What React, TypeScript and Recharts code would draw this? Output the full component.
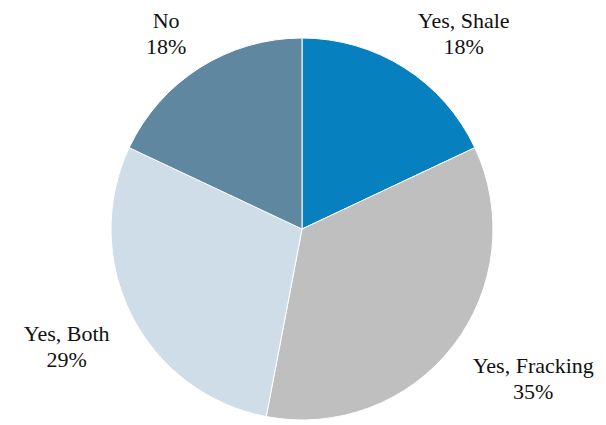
import { PieChart, Pie, Cell, LabelList } from "recharts";

const categories = ["Yes, Shale", "Yes, Fracking", "Yes, Both", "No"];
const shares = [18, 35, 29, 18];
const colors = ["#0780C0", "#BFBFBF", "#CEDDE8", "#5F879F"];

const data = categories.map((name, i) => ({ name, value: shares[i] }));

const FONT = "Liberation Serif, Tinos, Times New Roman, serif";
const FS = 22;
const LINE = 26;
const RADIAN = Math.PI / 180;

let ctx: CanvasRenderingContext2D | null = null;
function textWidth(s: string) {
  if (!ctx) ctx = document.createElement("canvas").getContext("2d");
  if (!ctx) return s.length * FS * 0.45;
  ctx.font = `${FS}px "Liberation Serif"`;
  return ctx.measureText(s).width;
}

// outside-end labels: box pushed away from the slice along its mid angle
function renderLabel(props: any) {
  const { viewBox, index } = props;
  if (!viewBox) return null;
  const { cx, cy, outerRadius, startAngle, endAngle } = viewBox;
  const mid = (startAngle + endAngle) / 2;
  const ux = Math.cos(-mid * RADIAN);
  const uy = Math.sin(-mid * RADIAN);
  const lines = [categories[index], `${shares[index]}%`];
  const w = Math.max(...lines.map(textWidth));
  const x = cx + (outerRadius + 25) * ux + Math.sign(ux) * (w / 2);
  const y = cy + (outerRadius + 10) * uy + Math.sign(uy) * LINE - 5.5;
  return (
    <g key={`lbl-${index}`} style={{ fontFamily: FONT }}>
      <text x={x} y={y} textAnchor="middle" style={{ fontFamily: FONT, fontSize: FS }} fill="#111">
        <tspan x={x} style={{ fontFamily: FONT }}>{lines[0]}</tspan>
        <tspan x={x} dy={LINE} style={{ fontFamily: FONT }}>{lines[1]}</tspan>
      </text>
    </g>
  );
}

export default function App() {
  return (
    <div style={{ position: "absolute", left: 0, top: 0, width: 606, height: 425, background: "#fff", fontFamily: FONT }}>
      <PieChart width={606} height={425} margin={{ top: 0, right: 0, bottom: 0, left: 0 }} style={{ fontFamily: FONT }}>
        <Pie
          data={data}
          dataKey="value"
          nameKey="name"
          cx={302}
          cy={229}
          outerRadius={191}
          startAngle={90}
          endAngle={-270}
          stroke="#ffffff"
          strokeWidth={1}
          labelLine={false}
          isAnimationActive={false}
        >
          {data.map((d, i) => (
            <Cell key={d.name} fill={colors[i]} />
          ))}
          <LabelList dataKey="value" content={renderLabel} />
        </Pie>
      </PieChart>
    </div>
  );
}
